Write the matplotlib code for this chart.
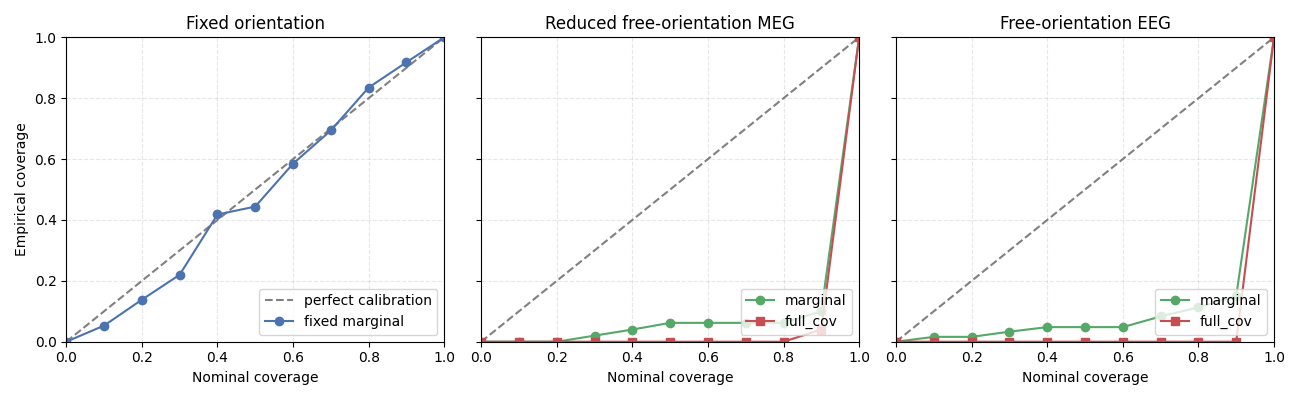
import numpy as np
import matplotlib.pyplot as plt

nominal = [0.0, 0.1, 0.2, 0.3, 0.4, 0.5, 0.6, 0.7, 0.8, 0.9, 1.0]

fixed_marginal = [0.0, 0.053, 0.138, 0.22, 0.418, 0.444, 0.585, 0.694, 0.835, 0.918, 1.0]

meg_marginal = [0.0, 0.0, 0.0, 0.02, 0.04, 0.062, 0.062, 0.062, 0.062, 0.1, 1.0]
meg_full_cov = [0.0, 0.0, 0.0, 0.0, 0.0, 0.0, 0.0, 0.0, 0.0, 0.04, 1.0]

eeg_marginal = [0.0, 0.016, 0.016, 0.033, 0.048, 0.048, 0.048, 0.083, 0.113, 0.15, 1.0]
eeg_full_cov = [0.0, 0.0, 0.0, 0.0, 0.0, 0.0, 0.0, 0.0, 0.0, 0.0, 1.0]

blue = "#4C72B0"
green = "#55A868"
red = "#C44E52"

fig, axes = plt.subplots(1, 3, figsize=(13, 4), sharey=True)

ax = axes[0]
ax.plot([0, 1], [0, 1], "--", color="gray", label="perfect calibration")
ax.plot(nominal, fixed_marginal, "o-", color=blue, label="fixed marginal")
ax.set_title("Fixed orientation")
ax.set_ylabel("Empirical coverage")
ax.legend(loc="lower right")

panels = [
    (axes[1], "Reduced free-orientation MEG", meg_marginal, meg_full_cov),
    (axes[2], "Free-orientation EEG", eeg_marginal, eeg_full_cov),
]
for ax, title, marg, full in panels:
    ax.plot([0, 1], [0, 1], "--", color="gray")
    ax.plot(nominal, marg, "o-", color=green, label="marginal")
    ax.plot(nominal, full, "s-", color=red, label="full_cov")
    ax.set_title(title)
    ax.legend(loc="lower right")

for ax in axes:
    ax.set_xlim(0, 1)
    ax.set_ylim(0, 1)
    ax.set_xlabel("Nominal coverage")
    ax.grid(True, linestyle="--", alpha=0.3)

plt.tight_layout()
plt.savefig("out.png", dpi=100)
